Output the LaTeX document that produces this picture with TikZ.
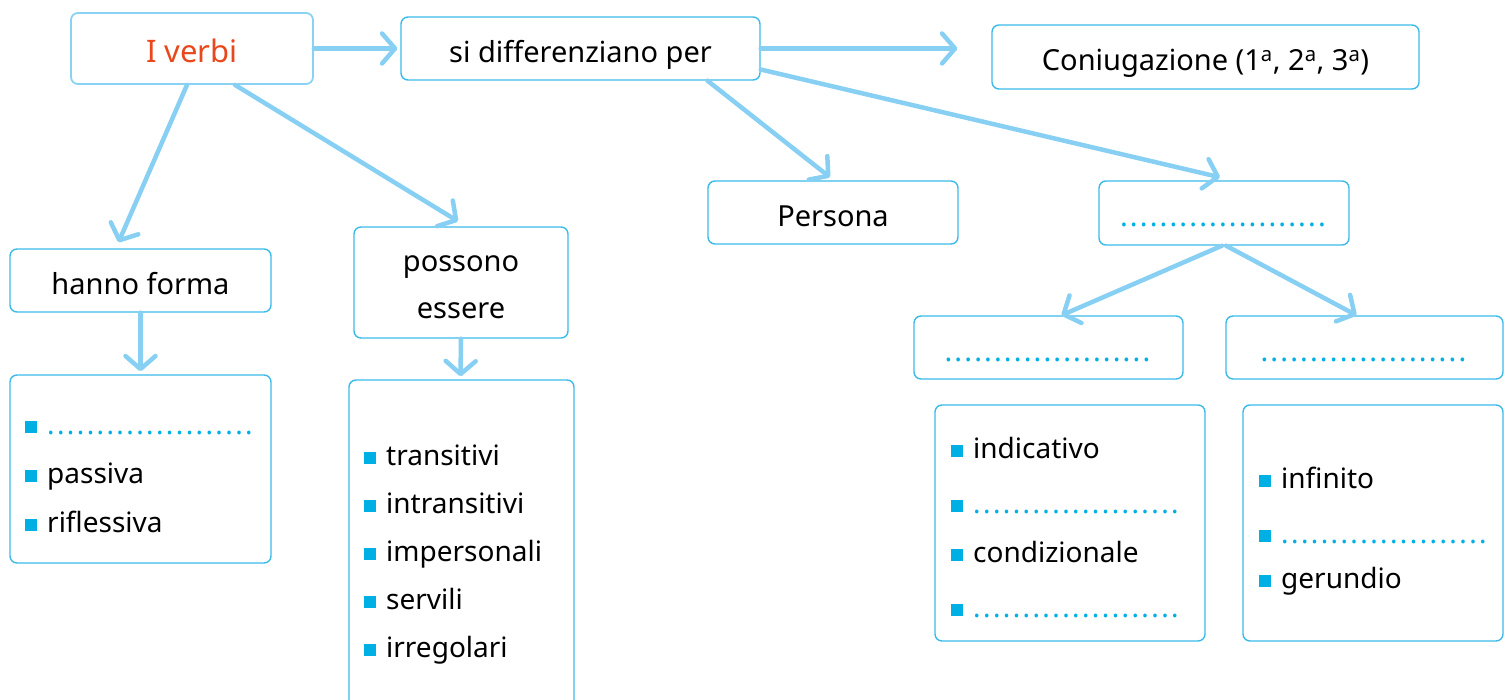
\documentclass[tikz,border=0pt]{standalone}
\usepackage{fontspec}
\setmainfont{Noto Sans}
\usetikzlibrary{arrows.meta,calc}
\definecolor{boxc}{HTML}{3CBBEA}
\definecolor{boxl}{HTML}{8AD2F4}
\definecolor{arrc}{HTML}{88D0F3}
\definecolor{bulc}{HTML}{00B0E4}
\definecolor{redc}{HTML}{E8481C}
\newcommand\fillin{{\color{bulc}\cleaders\hbox to 9.9pt{.\hss}\hskip 207.9pt\relax}}
\newcommand\bul{{\color{bulc}\rule[1pt]{12pt}{12pt}}\hspace{10pt}}
\begin{document}
\begin{tikzpicture}[x=1pt,y=-1pt,
  box/.style={draw=boxc, line width=1.4pt, rounded corners=7pt, inner sep=0pt, fill=white,
    font=\fontsize{29}{35}\selectfont, text height=28pt, text depth=0pt},
  sz/.style 2 args={minimum width=#1pt, minimum height=#2pt},
  item/.style={anchor=base west, inner sep=0pt, font=\fontsize{28}{34}\selectfont},
  arr/.style={draw=arrc, line width=4.5pt, line cap=round, -{Straight Barb[length=13pt,width=30pt,round]}}]
\useasboundingbox[fill=white] (0,0) rectangle (1510,700);
% boxes
\node[box, draw=boxl, line width=1.8pt, sz={242}{71}, text=redc, font=\fontsize{31}{36}\selectfont] (iv) at (192,48.5) {I verbi};
\node[box, sz={359}{63}] (sd) at (580.5,48.5) {si differenziano per};
\node[box, sz={427}{64}] (co) at (1205.5,57) {Coniugazione (1\textsuperscript{a}, 2\textsuperscript{a}, 3\textsuperscript{a})};
\node[box, sz={250}{63}] (pn) at (833,212.5) {Persona};
\node[box, sz={250}{64}] (dt) at (1224,213) {\fillin};
\node[box, sz={261}{63}] (hf) at (140.5,280.5) {hanno forma};
\node[box, sz={214}{111}, align=center, text height=, text depth=, font=\fontsize{29}{47}\selectfont] (pe) at (461,282.5) {\rule{0pt}{25pt}possono\\essere};
\node[box, sz={269}{63}] (dl) at (1048.5,347.5) {\fillin};
\node[box, sz={277}{63}] (dr) at (1364.5,347.5) {\fillin};
\node[box, sz={261}{188}] (l1) at (140.5,469) {};
\node[box, sz={225}{330}] (l2) at (461.5,545) {};
\node[box, sz={270}{236}] (l3) at (1070,523) {};
\node[box, sz={260}{236}] (l4) at (1373,523) {};
% list items
\node[item] (l1a) at (25,434) {\bul\fillin};
\node[item] (l1b) at (25,483) {\bul passiva};
\node[item] (l1c) at (25,532) {\bul riflessiva};
\node[item] (l2a) at (364,465) {\bul transitivi};
\node[item] (l2b) at (364,513) {\bul intransitivi};
\node[item] (l2c) at (364,561) {\bul impersonali};
\node[item] (l2d) at (364,609) {\bul servili};
\node[item] (l2e) at (364,657) {\bul irregolari};
\node[item] (l3a) at (951,458) {\bul indicativo};
\node[item] (l3b) at (951,513) {\bul\fillin};
\node[item] (l3c) at (951,562) {\bul condizionale};
\node[item] (l3d) at (951,617) {\bul\fillin};
\node[item] (l4a) at (1259,488) {\bul infinito};
\node[item] (l4b) at (1259,543) {\bul\fillin};
\node[item] (l4c) at (1259,588) {\bul gerundio};
% arrows
\draw[arr] (iv.east) -- ($(sd.west)+(-3,0)$);
\draw[arr] (sd.east) -- ($(sd.east -| co.west)+(-34,0)$);
\draw[arr] ($(iv.south)+(-5,0)$) -- ($(hf.north)+(-22,-6)$);
\draw[arr] ($(iv.south)+(43,0)$) -- ($(pe.north)+(-3,-5)$);
\draw[arr] ($(sd.south)+(127,0)$) -- ($(pn.north)+(-3,-3)$);
\draw[arr] ($(sd.east)+(0,21)$) -- ($(dt.north)+(-4,-3)$);
\draw[arr] (hf.south) -- ($(l1.north)+(0,-3)$);
\draw[arr] (pe.south) -- ($(l2.north)+(-1,-3)$);
\draw[arr] ($(dt.south)+(-2,0)$) -- ($(dl.north)+(13,0)$);
\draw[arr] ($(dt.south)+(2,0)$) -- ($(dr.north)+(-8,0)$);
\end{tikzpicture}
\end{document}
